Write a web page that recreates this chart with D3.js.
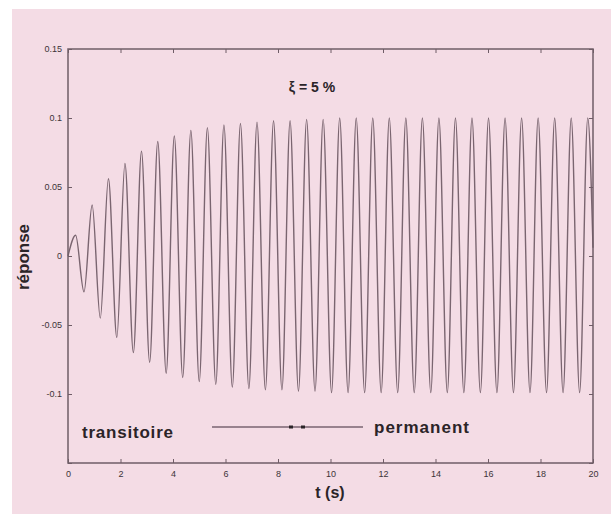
<!DOCTYPE html>
<html lang="fr">
<head>
<meta charset="UTF-8">
<title>Réponse</title>
<script src="https://cdn.jsdelivr.net/npm/d3@7/dist/d3.min.js"></script>
<style>
  body { margin: 0; background: #fff; }
  svg { display: block; font-family: "Liberation Sans", Arial, sans-serif; }
</style>
</head>
<body>
<script>
// valeurs : sommets et creux de la réponse
var peakTimes = [0.29, 0.92, 1.54, 2.17, 2.80, 3.42, 4.05, 4.68, 5.31, 5.94, 6.57, 7.20, 7.83, 8.46, 9.09, 9.72,
                 10.35, 10.98, 11.61, 12.24, 12.87, 13.50, 14.13, 14.76, 15.39, 16.02, 16.65, 17.28, 17.91, 18.54, 19.17, 19.80];
var peakValues = [0.015, 0.037, 0.056, 0.067, 0.076, 0.083, 0.087, 0.091, 0.093, 0.095, 0.096, 0.097, 0.098, 0.098, 0.099, 0.099,
                  0.1, 0.1, 0.1, 0.1, 0.1, 0.1, 0.1, 0.1, 0.1, 0.1, 0.1, 0.1, 0.1, 0.1, 0.1, 0.1];
var troughTimes = [0.61, 1.23, 1.86, 2.49, 3.11, 3.74, 4.37, 5.00, 5.63, 6.26, 6.89, 7.52, 8.15, 8.78, 9.41, 10.04,
                   10.67, 11.30, 11.93, 12.56, 13.19, 13.82, 14.45, 15.08, 15.71, 16.34, 16.97, 17.60, 18.23, 18.86, 19.49];
var troughValues = [-0.026, -0.045, -0.059, -0.070, -0.077, -0.085, -0.088, -0.091, -0.093, -0.095, -0.096, -0.097, -0.097, -0.098, -0.098, -0.099,
                    -0.099, -0.099, -0.099, -0.099, -0.099, -0.099, -0.099, -0.099, -0.099, -0.099, -0.099, -0.099, -0.099, -0.099, -0.099];
var startPoint = [0, 0];
var endPoint = [20, 0.006];

var xTicks = [0, 2, 4, 6, 8, 10, 12, 14, 16, 18, 20];
var yTicks = [-0.15, -0.1, -0.05, 0, 0.05, 0.1, 0.15];
var yLabels = ['', '-0.1', '-0.05', '0', '0.05', '0.1', '0.15'];

var W = 611, H = 514;
var plotL = 68, plotR = 593, plotT = 49, plotB = 463;
var lineCol = '#6f5d67';

var x = d3.scaleLinear().domain([0, 20]).range([plotL, plotR]);
var y = d3.scaleLinear().domain([-0.15, 0.15]).range([plotB, plotT]);

var svg = d3.select('body').append('svg').attr('width', W).attr('height', H);

// fond rose, bande blanche à gauche et en haut
svg.append('rect').attr('width', W).attr('height', H).attr('fill', '#fff');
svg.append('rect').attr('x', 12).attr('y', 9).attr('width', W - 12).attr('height', H - 9).attr('fill', '#f4dce5');

// points de la courbe
var pts = [startPoint];
peakTimes.forEach(function (t, i) {
  pts.push([t, peakValues[i]]);
  if (i < troughTimes.length) pts.push([troughTimes[i], troughValues[i]]);
});
pts.push(endPoint);

var line = d3.line()
  .x(function (d) { return x(d[0]); })
  .y(function (d) { return y(d[1]); })
  .curve(d3.curveMonotoneX);

svg.append('path')
  .datum(pts)
  .attr('d', line)
  .attr('fill', 'none')
  .attr('stroke', '#7a6570')
  .attr('stroke-width', 1.4);

// axes (graduations vers l'intérieur, style matlab)
function styleAxis(g) {
  g.select('.domain').remove();
  g.selectAll('.tick line').attr('stroke', lineCol).attr('stroke-width', 1);
  g.selectAll('.tick text').attr('fill', '#3c3338').style('font-size', '9px');
}

svg.append('g')
  .attr('transform', 'translate(0,' + plotB + ')')
  .call(d3.axisBottom(x).tickValues(xTicks).tickFormat(d3.format('d')).tickSizeInner(-4).tickSizeOuter(0).tickPadding(8))
  .call(styleAxis);

svg.append('g')
  .attr('transform', 'translate(0,' + plotT + ')')
  .call(d3.axisTop(x).tickValues(xTicks).tickFormat('').tickSizeInner(-4).tickSizeOuter(0))
  .call(styleAxis);

svg.append('g')
  .attr('transform', 'translate(' + plotL + ',0)')
  .call(d3.axisLeft(y).tickValues(yTicks).tickFormat(function (d, i) { return yLabels[i]; }).tickSizeInner(-4).tickSizeOuter(0).tickPadding(6))
  .call(styleAxis);

svg.append('g')
  .attr('transform', 'translate(' + plotR + ',0)')
  .call(d3.axisRight(y).tickValues(yTicks).tickFormat('').tickSizeInner(-4).tickSizeOuter(0))
  .call(styleAxis);

// cadre
svg.append('rect')
  .attr('x', plotL).attr('y', plotT)
  .attr('width', plotR - plotL).attr('height', plotB - plotT)
  .attr('fill', 'none')
  .attr('stroke', lineCol)
  .attr('stroke-width', 1.5);

// textes
svg.append('text')
  .attr('x', 312).attr('y', 92)
  .attr('text-anchor', 'middle')
  .style('font-size', '14px').style('font-weight', 'bold').attr('fill', '#2b2428')
  .text('ξ = 5 %');

svg.append('text')
  .attr('transform', 'translate(29,257) rotate(-90)')
  .attr('text-anchor', 'middle')
  .style('font-size', '17px').style('font-weight', 'bold').attr('fill', '#2b2428')
  .text('réponse');

svg.append('text')
  .attr('x', 330).attr('y', 498)
  .attr('text-anchor', 'middle')
  .style('font-size', '16px').style('font-weight', 'bold').attr('fill', '#2b2428')
  .text('t (s)');

// légende transitoire / permanent
svg.append('text')
  .attr('x', 82).attr('y', 438)
  .attr('textLength', 91)
  .style('font-size', '17px').style('font-weight', 'bold').attr('fill', '#2b2428')
  .text('transitoire');

svg.append('line')
  .attr('x1', 212).attr('x2', 363).attr('y1', 427).attr('y2', 427)
  .attr('stroke', '#7a6570').attr('stroke-width', 1.5);

[291, 303].forEach(function (cx) {
  svg.append('rect')
    .attr('x', cx - 2).attr('y', 425.5).attr('width', 4).attr('height', 3)
    .attr('fill', '#2b2428');
});

svg.append('text')
  .attr('x', 374).attr('y', 433)
  .attr('textLength', 95)
  .style('font-size', '17px').style('font-weight', 'bold').attr('fill', '#2b2428')
  .text('permanent');
</script>
</body>
</html>
